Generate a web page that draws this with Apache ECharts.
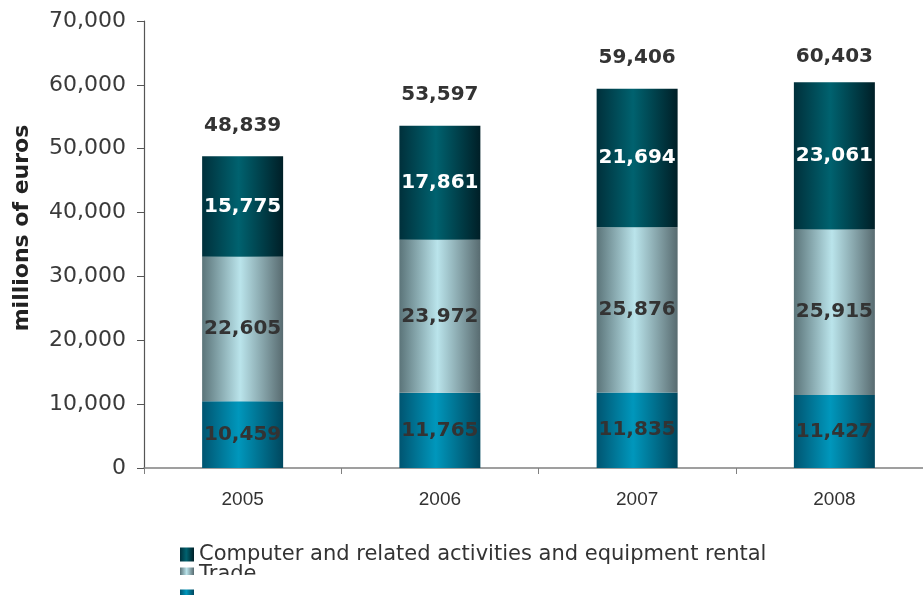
<!DOCTYPE html>
<html>
<head>
<meta charset="utf-8">
<script src="https://cdn.jsdelivr.net/npm/echarts@6/dist/echarts.min.js"></script>
<style>
  html, body { margin: 0; padding: 0; background: #ffffff; }
  #chart { width: 923px; height: 595px; }
</style>
</head>
<body>
<div id="chart"></div>
<script>
// Turnover by activity, millions of euros
const years = ['2005', '2006', '2007', '2008'];
const computerRental = [15775, 17861, 21694, 23061];
const trade = [22605, 23972, 25876, 25915];
const otherActivity = [10459, 11765, 11835, 11427];
const totals = [48839, 53597, 59406, 60403];
const yTicks = { min: 0, max: 70000, interval: 10000 };

const seriesNames = ['Computer and related activities and equipment rental', 'Trade', ' '];

function hGrad(stops) {
  return new echarts.graphic.LinearGradient(0, 0, 1, 0,
    stops.map(s => ({ offset: s[0], color: s[1] })));
}

const fillTop = hGrad([[0, '#00303b'], [0.45, '#00626f'], [1, '#001f27']]);
const fillMid = hGrad([[0, '#5b7479'], [0.47, '#bae4eb'], [1, '#586b70']]);
const fillLow = hGrad([[0, '#005571'], [0.45, '#0097bc'], [1, '#00475e']]);

const fmt = v => Number(v).toLocaleString('en-US');
const labelFont = { fontFamily: 'DejaVu Sans', fontWeight: 'bold', fontSize: 20 };

function barSeries(name, data, fill, labelColor) {
  return {
    name: name,
    type: 'bar',
    stack: 'total',
    data: data,
    barWidth: 81,
    itemStyle: { color: fill },
    label: Object.assign({
      show: true,
      position: 'inside',
      color: labelColor,
      formatter: p => fmt(p.value)
    }, labelFont),
    emphasis: { disabled: true }
  };
}

// one legend block per entry, stacked tightly under the plot
function legendEntry(name, top, extra) {
  return Object.assign({
    orient: 'vertical',
    left: 175,
    top: top,
    data: [name],
    itemWidth: 14,
    itemHeight: 14,
    icon: 'rect',
    padding: [0, 0, 0, 5],
    textStyle: { fontFamily: 'DejaVu Sans', fontSize: 21, color: '#333333' },
    selectedMode: false
  }, extra || {});
}

// total labels sit a fixed gap above each bar; the last one is nudged down a little
const totalLabelGap = [20, 20, 20, 15];

const chart = echarts.init(document.getElementById('chart'), null, { renderer: 'canvas' });

chart.setOption({
  animation: false,
  backgroundColor: '#ffffff',
  grid: { left: 144, top: 21, bottom: 127, right: -10, containLabel: false, outerBoundsMode: 'none' },
  legend: [
    legendEntry(seriesNames[0], 544),
    legendEntry(seriesNames[1], 564),
    legendEntry(seriesNames[2], 575, {
      padding: [11, 70, 0, 5],
      backgroundColor: '#ffffff',
      z: 10
    })
  ],
  xAxis: {
    type: 'category',
    data: years,
    axisLine: { lineStyle: { color: '#808080', width: 1.5 } },
    axisTick: { show: true, length: 6, alignWithLabel: false, lineStyle: { color: '#808080' } },
    axisLabel: { fontFamily: 'Liberation Sans', fontSize: 19, color: '#333333', margin: 22 }
  },
  yAxis: {
    type: 'value',
    min: yTicks.min,
    max: yTicks.max,
    interval: yTicks.interval,
    axisLine: { show: true, lineStyle: { color: '#555555', width: 1.2 } },
    axisTick: { show: true, length: 7, lineStyle: { color: '#555555' } },
    splitLine: { show: false },
    axisLabel: {
      fontFamily: 'DejaVu Sans', fontSize: 22, color: '#3a3a3a', margin: 18,
      formatter: v => fmt(v)
    }
  },
  graphic: [{
    type: 'text',
    x: 22,
    y: 228,
    rotation: Math.PI / 2,
    style: {
      text: 'millions of euros',
      font: 'bold 22px "DejaVu Sans"',
      fill: '#222222',
      align: 'center',
      verticalAlign: 'middle',
      textAlign: 'center',
      textVerticalAlign: 'middle'
    }
  }],
  series: [
    barSeries(seriesNames[2], otherActivity, fillLow, '#333333'),
    barSeries(seriesNames[1], trade, fillMid, '#333333'),
    barSeries(seriesNames[0], computerRental, fillTop, '#ffffff'),
    {
      name: 'Total',
      type: 'line',
      data: totals.map((v, i) => ({ value: v, label: { distance: totalLabelGap[i] } })),
      symbol: 'circle',
      symbolSize: 1,
      showSymbol: true,
      itemStyle: { color: 'rgba(0,0,0,0)' },
      lineStyle: { opacity: 0 },
      silent: true,
      label: Object.assign({
        show: true,
        position: 'top',
        color: '#333333',
        formatter: p => fmt(p.value)
      }, labelFont)
    }
  ]
});
</script>
</body>
</html>
